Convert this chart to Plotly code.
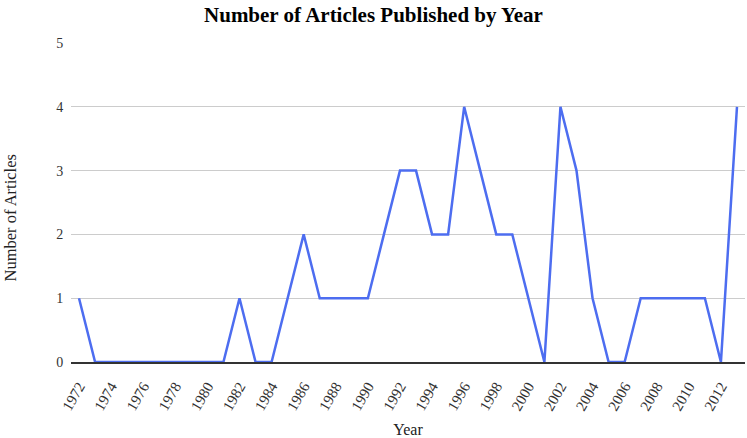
import plotly.graph_objects as go

years = list(range(1972, 2014))
articles = [1, 0, 0, 0, 0, 0, 0, 0, 0, 0,
            1, 0, 0, 1, 2, 1, 1, 1, 1, 2,
            3, 3, 2, 2, 4, 3, 2, 2, 1, 0,
            4, 3, 1, 0, 0, 1, 1, 1, 1, 1,
            0, 4]
tick_years = list(range(1972, 2013, 2))
tick_labels = [str(y) for y in tick_years]

font_family = "Liberation Serif, Times New Roman, serif"

fig = go.Figure()
fig.add_trace(go.Scatter(
    x=years, y=articles, mode="lines",
    line=dict(color="#4d6df0", width=2.5),
    hoverinfo="x+y", showlegend=False,
))

W, H = 747, 438
L, R, T, B = 71, 2, 43, 76
fig.update_layout(
    width=W, height=H,
    margin=dict(l=L, r=R, t=T, b=B),
    paper_bgcolor="white", plot_bgcolor="white",
    font=dict(family=font_family, color="#333333", size=14),
    title=dict(text="<b>Number of Articles Published by Year</b>",
               x=0.5, xanchor="center", y=0.967, yanchor="middle",
               font=dict(family=font_family, size=21, color="#000000")),
)
pw, ph = W - L - R, H - T - B
fig.add_annotation(
    text="Number of Articles", textangle=-90, showarrow=False,
    xref="paper", yref="paper",
    x=(9.5 - L) / pw, y=(H - B - 218) / ph,
    xanchor="center", yanchor="middle",
    font=dict(family=font_family, size=16.5, color="#222222"),
)
fig.update_xaxes(
    range=[1971.5, 2013.5],
    tickmode="array", tickvals=tick_years, ticktext=tick_labels,
    tickangle=-60, tickfont=dict(size=15, color="#333333"),
    showgrid=False, zeroline=False,
    showline=True, linecolor="#333333", linewidth=1.5,
    ticks="outside", ticklen=8, tickcolor="rgba(0,0,0,0)",
    automargin=False,
    title=dict(text="Year", font=dict(size=16, color="#222222"), standoff=18),
)
fig.update_yaxes(
    range=[0, 5], tickvals=[0, 1, 2, 3, 4, 5],
    tickfont=dict(size=14, color="#333333"),
    showgrid=True, gridcolor="#cccccc", gridwidth=1,
    zeroline=False, showline=False,
    ticks="outside", ticklen=4, tickcolor="rgba(0,0,0,0)",
    automargin=False,
)

fig.write_html("out.html", config={"displayModeBar": False})

with open("out.html", "r", encoding="utf-8") as f:
    html = f.read()
html = html.replace("<head>", "<head><style>html,body{margin:0;padding:0;overflow:hidden;}</style>", 1)
with open("out.html", "w", encoding="utf-8") as f:
    f.write(html)
